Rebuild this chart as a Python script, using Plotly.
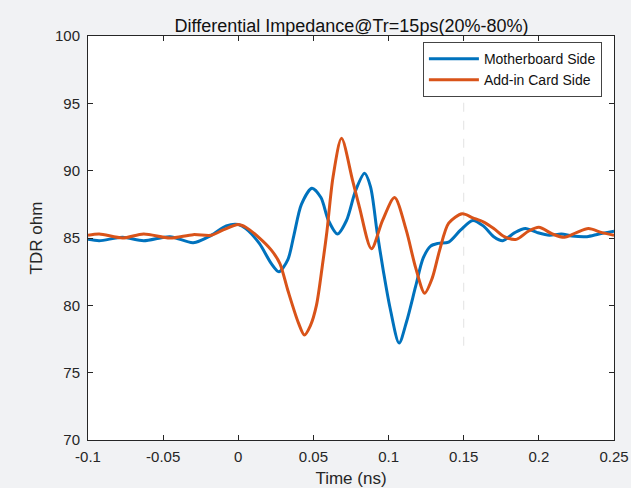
import plotly.graph_objects as go

# Motherboard Side (blue)
t_mb = [-0.1, -0.0925, -0.077, -0.063, -0.0455, -0.03, -0.018, -0.008, 0.0, 0.005,
        0.014, 0.022, 0.027, 0.033, 0.037, 0.042, 0.049, 0.055, 0.06, 0.066,
        0.072, 0.078, 0.084, 0.088, 0.0923, 0.0966, 0.101, 0.107, 0.112, 0.118,
        0.123, 0.128, 0.133, 0.14, 0.148, 0.156, 0.163, 0.17, 0.176, 0.184,
        0.191, 0.199, 0.207, 0.215, 0.222, 0.232, 0.24, 0.25]
z_mb = [84.9, 84.8, 85.05, 84.8, 85.1, 84.65, 85.2, 85.9, 86.0, 85.7,
        84.6, 83.1, 82.5, 83.4, 85.2, 87.5, 88.7, 88.0, 86.3, 85.3,
        86.3, 88.5, 89.8, 88.8, 85.5, 82.5, 79.8, 77.2, 78.8, 81.4,
        83.5, 84.4, 84.6, 84.7, 85.6, 86.3, 85.9, 85.1, 84.8, 85.4,
        85.7, 85.4, 85.2, 85.3, 85.15, 85.1, 85.3, 85.5]

# Add-in Card Side (orange)
t_ac = [-0.1, -0.0925, -0.077, -0.063, -0.0455, -0.03, -0.018, -0.01, 0.0, 0.005,
        0.0136, 0.022, 0.0277, 0.033, 0.04, 0.044, 0.048, 0.052, 0.056, 0.059,
        0.063, 0.0687, 0.076, 0.0806, 0.0886, 0.096, 0.104, 0.1117, 0.118, 0.124,
        0.129, 0.134, 0.14, 0.149, 0.156, 0.163, 0.17, 0.177, 0.185, 0.193,
        0.2, 0.209, 0.217, 0.225, 0.233, 0.242, 0.25]
z_ac = [85.2, 85.3, 85.0, 85.3, 85.0, 85.25, 85.2, 85.6, 86.0, 85.8,
        85.05, 84.1, 83.1, 81.1, 78.7, 77.8, 78.5, 80.0, 83.0, 85.5,
        89.5, 92.4, 89.3, 87.3, 84.2, 86.3, 88.0, 85.6, 82.8, 80.9,
        82.0, 84.1, 86.1, 86.8, 86.5, 86.2, 85.7, 85.1, 84.9, 85.5,
        85.8, 85.3, 85.05, 85.4, 85.7, 85.4, 85.2]

series_names = ["Motherboard Side", "Add-in Card Side"]
x_ticks = [-0.1, -0.05, 0, 0.05, 0.1, 0.15, 0.2, 0.25]
x_ticktext = ["-0.1", "-0.05", "0", "0.05", "0.1", "0.15", "0.2", "0.25"]
y_ticks = [70, 75, 80, 85, 90, 95, 100]

fig = go.Figure()
fig.add_trace(go.Scatter(x=t_mb, y=z_mb, mode="lines", name=series_names[0],
                         line=dict(color="#0072BD", width=3, shape="spline", smoothing=0.8)))
fig.add_trace(go.Scatter(x=t_ac, y=z_ac, mode="lines", name=series_names[1],
                         line=dict(color="#D95319", width=3, shape="spline", smoothing=0.8)))

fig.add_shape(type="line", x0=0.15, x1=0.15, y0=77, y1=100, xref="x", yref="y",
              line=dict(color="#e2e2e2", width=1, dash="dash"), layer="below")

axis_common = dict(showline=True, linecolor="#262626", linewidth=1, mirror="ticks",
                   ticks="inside", ticklen=5, tickcolor="#262626", showgrid=False,
                   zeroline=False, automargin=False,
                   tickfont=dict(size=15, color="#262626"))

fig.update_layout(
    width=631, height=488,
    paper_bgcolor="#f1f2f4", plot_bgcolor="#ffffff",
    margin=dict(l=88, r=17, t=36, b=48),
    font=dict(family="Liberation Sans, Arial, sans-serif", color="#262626"),
    title=dict(text="Differential Impedance@Tr=15ps(20%-80%)", x=0.557, xanchor="center",
               y=0.948, yanchor="middle", font=dict(size=18, color="#111111")),
    xaxis=dict(range=[-0.1, 0.25], tickvals=x_ticks, ticktext=x_ticktext, ticklabelstandoff=3,
               title=dict(text="Time (ns)", font=dict(size=17), standoff=12), **axis_common),
    yaxis=dict(range=[70, 100], tickvals=y_ticks, ticklabelstandoff=4,
               title=dict(text="TDR ohm", font=dict(size=17), standoff=8), **axis_common),
    legend=dict(x=0.977, y=0.985, xanchor="right", yanchor="top",
                bgcolor="#ffffff", bordercolor="#444444", borderwidth=1,
                font=dict(size=14, color="#111111"), tracegroupgap=0, itemwidth=50),
    showlegend=True,
)

fig.write_html("out.html", config={"displayModeBar": False},
               post_script="document.body.style.margin='0';document.body.style.background='#f1f2f4';")
